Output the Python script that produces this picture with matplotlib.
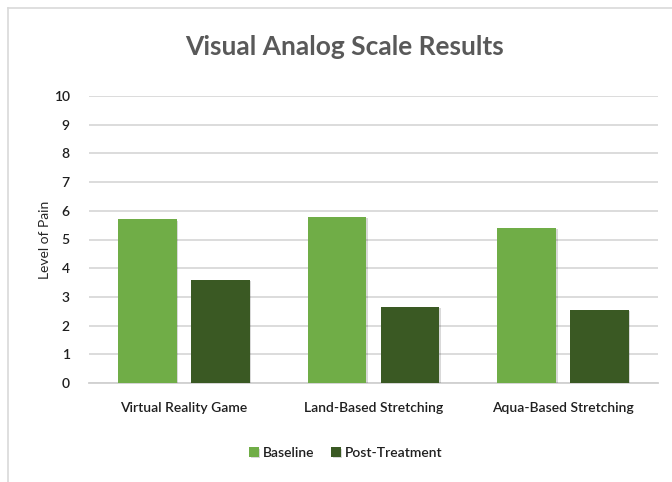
import matplotlib
matplotlib.use("Agg")
import matplotlib.pyplot as plt
import numpy as np
from matplotlib.lines import Line2D
from matplotlib import patheffects as pe

categories = ["Virtual Reality Game", "Land-Based Stretching", "Aqua-Based Stretching"]
baseline = [5.7, 5.8, 5.4]
post_treatment = [3.6, 2.65, 2.55]
series_names = ["Baseline", "Post-Treatment"]
y_ticks = list(range(0, 11))

W, H = 672, 482
fig = plt.figure(figsize=(W / 100, H / 100), dpi=100)
fig.patch.set_facecolor("white")

font = ["Lato", "DejaVu Sans"]
ax = fig.add_axes([89 / W, 1 - 383 / H, (658 - 89) / W, (383 - 96) / H])

x = np.arange(len(categories))
bw = 0.31
off = 0.192
shadow = [pe.SimplePatchShadow(offset=(1, -1), shadow_rgbFace="#000000", alpha=0.15), pe.Normal()]
b1 = ax.bar(x - off, baseline, bw, color="#70AD47", zorder=3, label=series_names[0])
b2 = ax.bar(x + off, post_treatment, bw, color="#3A5923", zorder=3, label=series_names[1])
for r in list(b1) + list(b2):
    r.set_path_effects(shadow)

ax.set_xlim(-0.5, 2.5)
ax.set_ylim(0, 10)
ax.set_yticks(y_ticks)
ax.set_xticks(x)
ax.set_xticklabels(categories, fontfamily=font, fontsize=10, color="#1F1F1F", fontweight="semibold")
for lab in ax.get_yticklabels():
    lab.set_fontfamily(font)
    lab.set_fontsize(10)
    lab.set_color("#1F1F1F")
    lab.set_fontweight("semibold")
ax.tick_params(axis="both", length=0)
ax.tick_params(axis="x", pad=14)
ax.tick_params(axis="y", pad=14)
ax.grid(axis="y", color="#D9D9D9", linewidth=1.3, zorder=0)
for s in ["top", "right", "left"]:
    ax.spines[s].set_visible(False)
ax.spines["bottom"].set_color("#D0D0D0")
ax.spines["bottom"].set_linewidth(1.3)
ax.set_ylabel("Level of Pain", fontfamily=font, fontsize=10, color="#262626", labelpad=2)

fig.text(0.513, 1 - 47 / H, "Visual Analog Scale Results", ha="center", va="center",
         fontfamily=font, fontsize=19, fontweight="bold", color="#595959")

leg = fig.legend(handles=[b1, b2], labels=series_names, loc="center", bbox_to_anchor=(0.515, 1 - 453 / H),
                 ncol=2, frameon=False, handlelength=0.7, handleheight=0.7, handletextpad=0.3,
                 columnspacing=1.2, prop={"family": font, "size": 10, "weight": "semibold"})
for t in leg.get_texts():
    t.set_color("#1F1F1F")

# chart frame
fig.add_artist(Line2D([8 / W, 1], [1 - 8 / H, 1 - 8 / H], color="#D9D9D9", linewidth=1.2))
fig.add_artist(Line2D([8 / W, 8 / W], [0, 1 - 8 / H], color="#D9D9D9", linewidth=1.2))

fig.savefig("out.png", dpi=100, facecolor="white")
